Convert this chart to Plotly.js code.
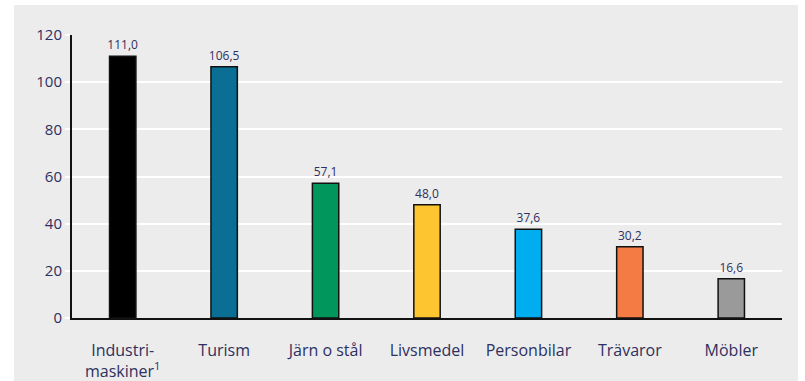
<!DOCTYPE html>
<html><head><meta charset="utf-8">
<script src="https://cdn.plot.ly/plotly-3.0.1.min.js"></script>
<style>
html,body{margin:0;padding:0;background:#ffffff;width:805px;height:381px;overflow:hidden;}
#chart{position:absolute;left:14px;top:5px;width:784px;height:376px;}
</style></head>
<body><div id="chart"></div>
<script>
const categories = ["Industri-<br>maskiner<sup>1</sup>", "Turism", "Järn o stål", "Livsmedel", "Personbilar", "Trävaror", "Möbler"];
const values = [111.0, 106.5, 57.1, 48.0, 37.6, 30.2, 16.6];
const barColors = ["#000000", "#0b6e94", "#00965c", "#fdc52f", "#00aeef", "#f47b44", "#9a9a9a"];
const yTicks = [0, 20, 40, 60, 80, 100, 120];

const trace = {
  type: "bar",
  x: categories,
  y: values,
  marker: {color: barColors, line: {color: "#111111", width: 1.5}},
  width: 0.26,
  texttemplate: "%{y:.1f}",
  textposition: "outside",
  constraintext: "none",
  cliponaxis: false,
  textfont: {family: "Open Sans, sans-serif", size: 12, color: "#2e3060"},
  hoverinfo: "skip"
};

const layout = {
  width: 784, height: 376,
  margin: {l: 58, r: 16, t: 30, b: 63},
  paper_bgcolor: "#ececec",
  plot_bgcolor: "#ececec",
  separators: ", ",
  showlegend: false,
  xaxis: {
    showline: true, linecolor: "#111111", linewidth: 2,
    showgrid: false, ticks: "", ticklabelstandoff: 17,
    tickfont: {family: "Open Sans, sans-serif", size: 16, color: "#2e3060"},
    fixedrange: true
  },
  yaxis: {
    range: [0, 120], tickvals: yTicks, ticktext: yTicks.map(String),
    showline: true, linecolor: "#111111", linewidth: 2,
    showgrid: true, gridcolor: "#ffffff", gridwidth: 2,
    zeroline: false,
    ticks: "outside", ticklen: 5, tickcolor: "#ffffff", tickwidth: 2,
    tickfont: {family: "Open Sans, sans-serif", size: 15, color: "#2e3060"},
    fixedrange: true
  }
};

Plotly.newPlot("chart", [trace], layout, {displayModeBar: false, staticPlot: true});
</script></body></html>
